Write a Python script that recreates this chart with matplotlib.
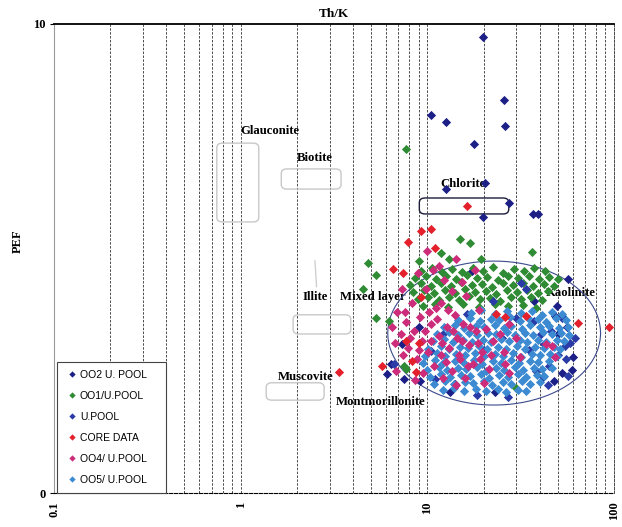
import numpy as np
import matplotlib.pyplot as plt
from matplotlib.patches import FancyBboxPatch
from matplotlib.lines import Line2D

SERIF = 'Liberation Serif'

# ---- data (Th/K, PEF) ----
oo2_thk = [19.9, 10.4, 12.6, 25.6, 26.2, 17.8, 12.6, 20.4, 27.5, 36.7, 39.1, 19.9,
           48.5, 52.7, 56.0, 50.4, 60.0, 59.5, 52.7, 48.0, 41.6, 23.0, 9.0, 7.3,
           6.4, 6.05, 7.5, 9.1, 13.2, 14.0, 56.6, 49.6, 17.3, 37.3]
oo2_pef = [9.72, 8.07, 7.92, 8.39, 7.82, 7.45, 6.49, 6.60, 6.19, 5.95, 5.95, 5.89,
           3.77, 3.77, 3.55, 3.38, 2.91, 2.63, 2.55, 2.38, 2.48, 2.16, 3.55, 3.17,
           2.74, 2.53, 2.44, 2.38, 2.16, 2.33, 4.56, 3.98, 4.73, 4.09]

oo1_thk = [9.3, 10.6, 12.0, 13.6, 15.4, 17.5, 19.8, 22.5, 25.5, 29.0, 33.0, 37.5, 42.5,
           8.6, 9.8, 11.1, 12.6, 14.3, 16.3, 18.5, 21.0, 23.8, 27.0, 30.7, 34.9, 39.6, 45.0, 50.0,
           8.1, 9.2, 10.4, 11.8, 13.4, 15.2, 17.3, 19.6, 22.3, 25.3, 28.7, 32.6, 37.0, 42.0, 47.5,
           8.4, 9.6, 10.9, 12.4, 14.1, 16.0, 18.1, 20.6, 23.4, 26.6, 30.2, 34.3, 39.0, 44.3,
           8.9, 10.1, 11.5, 13.0, 14.8, 16.8, 19.1, 21.7, 24.6, 28.0, 31.8, 36.1, 41.0,
           9.5, 11.0, 12.9, 15.6, 18.8, 22.9, 27.0, 32.5, 38.0,
           7.67, 15.0, 16.9, 4.8, 5.3, 4.5, 36.3, 19.5, 11.8, 5.3, 6.25, 7.5, 7.7, 29.9, 13.0, 9.0]
oo1_pef = [4.74, 4.80, 4.72, 4.78, 4.71, 4.79, 4.73, 4.81, 4.70, 4.77, 4.73, 4.80, 4.74,
           4.58, 4.63, 4.57, 4.62, 4.56, 4.64, 4.59, 4.61, 4.55, 4.63, 4.58, 4.62, 4.57, 4.61, 4.56,
           4.43, 4.48, 4.42, 4.47, 4.41, 4.49, 4.44, 4.46, 4.40, 4.48, 4.43, 4.47, 4.42, 4.46, 4.41,
           4.28, 4.33, 4.27, 4.32, 4.26, 4.34, 4.29, 4.31, 4.25, 4.33, 4.28, 4.32, 4.27, 4.30,
           4.13, 4.18, 4.12, 4.17, 4.11, 4.19, 4.14, 4.16, 4.10, 4.18, 4.13, 4.17, 4.12,
           3.98, 4.03, 3.97, 4.02, 3.96, 4.04, 3.99, 4.01, 3.95,
           7.34, 5.42, 5.33, 4.90, 4.65, 4.35, 5.14, 4.99, 5.12, 3.73, 3.66, 2.70, 2.65, 2.23, 4.98, 4.95]

upool_thk = [10.4, 12.1, 11.0, 16.4, 42.0, 54.7, 29.9, 37.3, 31.6, 33.8, 52.7, 6.6,
             62.0, 18.5, 27.0, 44.5, 35.0, 46.0, 55.5, 25.0, 20.0, 38.0, 58.0, 22.5,
             50.0, 45.0, 40.5, 57.0]
upool_pef = [3.02, 3.38, 2.44, 3.81, 3.17, 3.13, 3.73, 3.66, 4.48, 4.35, 3.73, 2.74,
             3.30, 2.08, 2.05, 2.30, 3.05, 3.45, 2.85, 3.30, 3.05, 2.60, 3.20, 4.10,
             2.95, 2.70, 3.40, 2.50]

core_thk = [16.4, 9.3, 10.4, 7.86, 11.0, 6.56, 7.4, 9.3, 3.38, 5.74, 7.7, 9.0,
            8.25, 8.65, 64.0, 94.0, 23.2, 26.0, 33.8]
core_pef = [6.12, 5.59, 5.63, 5.35, 5.22, 4.78, 4.69, 4.18, 2.59, 2.70, 3.25, 3.19,
            2.81, 2.59, 3.62, 3.55, 3.81, 3.75, 3.77]

oo4_thk = [6.5, 6.7, 6.9, 7.2, 7.4, 7.7, 7.9, 8.3, 8.5, 8.8, 9.1, 9.4, 9.8, 10.1, 10.4,
           10.8, 11.1, 11.5, 11.9, 12.3, 12.7, 13.1, 13.6, 14.0, 14.5, 15.0, 15.6, 16.2,
           16.8, 17.5, 18.2, 18.9, 19.7, 20.5, 21.5, 22.4, 24.4, 25.8, 27.5, 29.9, 31.5,
           43.0, 46.5, 48.5, 7.3, 8.9, 10.7, 13.5, 11.8, 9.5, 12.1, 16.0, 20.0, 14.3,
           9.0, 9.7, 10.5, 11.3, 12.0, 12.9, 13.8, 15.3, 17.0, 18.6, 7.6, 8.1, 10.2,
           12.6, 14.8, 16.6, 19.2, 22.0, 27.5, 26.2, 6.8, 8.6, 15.3, 17.9, 9.9, 14.2, 11.6]
oo4_pef = [3.55, 3.20, 3.85, 3.40, 2.95, 3.65, 3.10, 4.05, 3.45, 2.85, 3.75, 3.25, 4.35, 3.00, 3.60,
           2.70, 3.95, 3.35, 2.95, 4.55, 3.55, 3.10, 2.60, 3.80, 3.30, 2.85, 3.60, 4.20,
           3.15, 2.75, 3.45, 3.90, 3.00, 3.50, 2.65, 3.25, 3.40, 3.00, 2.55, 3.30, 2.90,
           3.17, 3.13, 2.90, 4.35, 4.70, 4.75, 4.30, 4.05, 2.55, 2.45, 2.45, 2.35, 2.30,
           3.05, 3.45, 3.25, 3.70, 3.20, 3.90, 3.45, 3.25, 3.55, 3.20, 3.85, 3.30, 3.85,
           2.80, 2.95, 2.70, 2.85, 2.95, 3.60, 2.75, 2.60, 2.40, 4.50, 4.75, 5.15, 5.00, 4.85]

oo5_thk = [17.2, 19.4, 23.1, 26.8, 31.6, 36.3, 41.2, 46.6, 52.5,
           14.6, 16.9, 19.1, 21.8, 24.3, 27.7, 31.2, 34.6, 39.3, 43.2, 48.9, 55.4,
           12.3, 14.1, 15.8, 18.2, 20.1, 22.9, 25.7, 28.2, 32.0, 35.4, 40.3, 44.6, 50.8, 56.9,
           11.2, 13.0, 14.6, 16.7, 18.5, 21.2, 23.4, 26.6, 29.4, 33.4, 37.0, 41.9, 46.3, 52.3, 57.6,
           10.7, 12.3, 13.7, 15.6, 17.3, 19.8, 21.8, 24.9, 27.5, 31.2, 34.4, 39.1, 43.3, 49.2, 54.0,
           10.1, 11.8, 13.1, 15.0, 16.6, 19.0, 21.0, 24.0, 26.5, 30.2, 33.3, 37.9, 42.0, 47.7, 51.6,
           9.7, 11.2, 12.5, 14.3, 15.9, 18.1, 20.0, 22.9, 25.3, 28.8, 31.8, 36.2, 40.1, 45.6, 49.6,
           9.5, 11.0, 12.2, 14.0, 15.5, 17.7, 19.6, 22.4, 24.7, 28.2, 31.1, 35.4, 39.2, 44.6,
           9.9, 11.5, 12.8, 14.6, 16.2, 18.5, 20.5, 23.4, 25.9, 29.5, 32.6, 37.1, 41.0, 46.3,
           10.3, 11.9, 13.3, 15.2, 16.9, 19.3, 21.3, 24.3, 26.9, 30.6, 33.8, 38.5, 42.2,
           10.8, 12.5, 13.9, 15.9, 17.6, 20.2, 22.3, 25.5, 28.2, 32.1, 35.5, 40.3,
           12.1, 13.9, 15.7, 18.3, 20.6, 23.8, 26.5, 30.5, 33.7]
oo5_pef = [3.84, 3.90, 3.81, 3.87, 3.83, 3.89, 3.80, 3.86, 3.82,
           3.68, 3.74, 3.66, 3.72, 3.69, 3.75, 3.67, 3.73, 3.70, 3.65, 3.74, 3.69,
           3.53, 3.58, 3.51, 3.57, 3.54, 3.59, 3.52, 3.56, 3.50, 3.58, 3.53, 3.57, 3.52, 3.55,
           3.38, 3.43, 3.37, 3.41, 3.36, 3.42, 3.39, 3.44, 3.37, 3.41, 3.36, 3.43, 3.38, 3.42, 3.37,
           3.24, 3.28, 3.22, 3.27, 3.23, 3.26, 3.21, 3.28, 3.24, 3.27, 3.22, 3.26, 3.23, 3.27, 3.24,
           3.08, 3.13, 3.07, 3.12, 3.09, 3.14, 3.06, 3.11, 3.08, 3.13, 3.07, 3.12, 3.09, 3.11, 3.06,
           2.93, 2.98, 2.92, 2.97, 2.94, 2.99, 2.92, 2.96, 2.93, 2.98, 2.91, 2.97, 2.94, 2.96, 2.92,
           2.78, 2.83, 2.77, 2.82, 2.79, 2.84, 2.76, 2.81, 2.78, 2.83, 2.77, 2.82, 2.79, 2.81,
           2.63, 2.68, 2.62, 2.67, 2.64, 2.69, 2.61, 2.66, 2.63, 2.68, 2.62, 2.67, 2.64, 2.66,
           2.48, 2.53, 2.47, 2.52, 2.49, 2.54, 2.46, 2.51, 2.48, 2.53, 2.47, 2.52, 2.49,
           2.33, 2.38, 2.32, 2.37, 2.34, 2.39, 2.31, 2.36, 2.33, 2.38, 2.32, 2.36,
           2.19, 2.23, 2.17, 2.22, 2.18, 2.21, 2.16, 2.20, 2.18]

# mineral zones: (label, x0, x1, y0, y1)
zones = [('Glauconite', 0.745, 1.25, 5.78, 7.46),
         ('Biotite', 1.65, 3.45, 6.48, 6.91),
         ('Chlorite', 9.06, 27.3, 5.95, 6.29),
         ('Illite', 1.91, 3.89, 3.39, 3.80),
         ('Muscovite', 1.37, 2.80, 1.98, 2.35)]
labels = [('Glauconite', 1.0, 7.72), ('Biotite', 2.01, 7.14), ('Chlorite', 11.7, 6.59),
          ('Illite', 2.14, 4.18), ('Mixed layer', 3.40, 4.18), ('Kaolinite', 42.9, 4.26),
          ('Muscovite', 1.59, 2.47), ('Montmorillonite', 3.24, 1.94)]
kaol_center = (22.8, 3.41)
kaol_halfwidth = 0.57    # decades
kaol_halfheight = 1.535

series = [('OO2 U. POOL', oo2_thk, oo2_pef, '#1b1f86'),
          ('OO1/U.POOL', oo1_thk, oo1_pef, '#2f8c35'),
          ('U.POOL', upool_thk, upool_pef, '#2a3aa6'),
          ('CORE DATA', core_thk, core_pef, '#e3202c'),
          ('OO4/ U.POOL', oo4_thk, oo4_pef, '#cc2c7a'),
          ('OO5/ U.POOL', oo5_thk, oo5_pef, '#3b8ad2')]
draw_order = [0, 1, 2, 5, 4, 3]

fig = plt.figure(figsize=(6.22, 5.27), dpi=100)
ax = fig.add_axes([54 / 622, (527 - 493) / 527, (614 - 54) / 622, (493 - 24) / 527])
ax.set_xscale('log')
ax.set_xlim(0.1, 100)
ax.set_ylim(0, 10)

ax.xaxis.grid(True, which='both', color='#4a4a4a', linestyle=(0, (2.5, 1.5)), linewidth=0.7)
ax.set_xticks([0.1, 1, 10, 100])
ax.set_xticklabels(['0.1', '1', '10', '100'], rotation=90, fontsize=9,
                   family=SERIF, fontweight='bold')
ax.tick_params(axis='x', which='both', length=0, pad=6)
ax.set_yticks([0, 10])
ax.set_yticklabels(['0', '10'], fontsize=9, family=SERIF, fontweight='bold')
ax.tick_params(axis='y', length=3, width=0.8, pad=3)

ax.spines['top'].set_linewidth(1.3)
ax.spines['bottom'].set_linestyle((0, (3, 1.5)))
ax.spines['bottom'].set_linewidth(0.8)
ax.spines['left'].set_color('#9a9a9a')
ax.spines['left'].set_linewidth(0.8)
ax.spines['right'].set_linestyle((0, (2.5, 1.5)))
ax.spines['right'].set_color('#4a4a4a')
ax.spines['right'].set_linewidth(0.7)

ax.set_title('Th/K', fontsize=9.5, family=SERIF, fontweight='bold', pad=5)
ax.set_ylabel('PEF', fontsize=9, family=SERIF, fontweight='bold')
ax.yaxis.set_label_coords(-0.054, 0.537)

# mineral boxes, drawn in axes fraction so the rounded corners stay round
to_axes = ax.transAxes.inverted()
for name, x0, x1, y0, y1 in zones:
    (ax0, ay0), (ax1, ay1) = to_axes.transform(ax.transData.transform([(x0, y0), (x1, y1)]))
    edge = '#1c1c3a' if name == 'Chlorite' else '#c8c8c8'
    ax.add_patch(FancyBboxPatch((ax0, ay0), ax1 - ax0, ay1 - ay0,
                                boxstyle='round,pad=0,rounding_size=0.01',
                                transform=ax.transAxes, fill=False, edgecolor=edge,
                                linewidth=1.0, zorder=2))
ax.plot([2.5, 2.55], [4.95, 4.4], color='#d0d0d0', lw=1.0, zorder=2)

for txt, x, y in labels:
    ax.text(x, y, txt, ha='left', va='center', fontsize=9.2, family=SERIF,
            fontweight='bold', zorder=2)

t = np.linspace(0, 2 * np.pi, 200)
ax.plot(10 ** (np.log10(kaol_center[0]) + kaol_halfwidth * np.cos(t)),
        kaol_center[1] + kaol_halfheight * np.sin(t),
        color='#3b4a8c', lw=0.8, zorder=3)

for i in draw_order:
    name, xs, ys, col = series[i]
    ax.scatter(xs, ys, s=22, marker='D', color=col, linewidths=0, zorder=4 + draw_order.index(i))

handles = [Line2D([], [], marker='D', linestyle='none', markersize=3.2,
                  markerfacecolor=c, markeredgewidth=0) for _, _, _, c in series]
leg = ax.legend(handles, [s[0] for s in series], loc='lower left', mode='expand',
                bbox_to_anchor=(0.0054, 0.0, 0.195, 0.276), borderaxespad=0,
                prop={'family': ['Liberation Sans Narrow', 'Liberation Sans'], 'size': 7.5},
                labelspacing=1.05, handlelength=1.2, handletextpad=0.2, borderpad=0.8,
                fancybox=False, framealpha=1, edgecolor='#444444')
leg.get_frame().set_linewidth(0.8)
leg.set_zorder(20)

fig.savefig('out.png', dpi=100)
